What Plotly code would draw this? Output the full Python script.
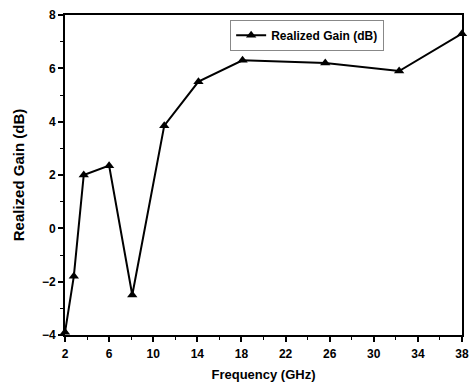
import plotly.graph_objects as go

freq = [2, 2.8, 3.7, 6.0, 8.1, 11.0, 14.1, 18.1, 25.6, 32.3, 38]
gain = [-3.9, -1.8, 2.0, 2.35, -2.5, 3.85, 5.5, 6.3, 6.2, 5.9, 7.3]
x_ticks = [2, 6, 10, 14, 18, 22, 26, 30, 34, 38]
y_ticks = [-4, -2, 0, 2, 4, 6, 8]

font_family = "Arial, Liberation Sans, sans-serif"

fig = go.Figure()
fig.add_trace(go.Scatter(
    x=freq, y=gain, mode="lines+markers", name="Realized Gain (dB)",
    line=dict(color="black", width=2),
    marker=dict(symbol="triangle-up", size=9, color="black"),
    cliponaxis=False,
))

axis_common = dict(
    showline=True, linecolor="black", linewidth=2, mirror=True,
    ticks="outside", ticklen=5, tickwidth=2, tickcolor="black",
    showgrid=False, zeroline=False, automargin=False,
    tickfont=dict(family=font_family, size=12, color="black", weight="bold"),
)

fig.update_xaxes(
    range=[2, 38], tickvals=x_ticks, ticklabelstandoff=2,
    minor=dict(ticks="outside", ticklen=3, tickwidth=1, tickcolor="black", dtick=2, tick0=0, showgrid=False),
    title=dict(text="Frequency (GHz)", font=dict(family=font_family, size=13, color="black", weight="bold"), standoff=9),
    **axis_common,
)
fig.update_yaxes(
    range=[-4, 8], tickvals=y_ticks,
    minor=dict(ticks="outside", ticklen=3, tickwidth=1, tickcolor="black", dtick=1, tick0=0, showgrid=False),
    title=dict(text="Realized Gain (dB)", font=dict(family=font_family, size=15, color="black", weight="bold"), standoff=14),
    **axis_common,
)

fig.update_layout(
    width=470, height=383,
    margin=dict(l=65, r=8, t=15, b=48),
    paper_bgcolor="white", plot_bgcolor="white",
    font=dict(family=font_family, color="black"),
    legend=dict(
        x=0.416, y=0.985, xanchor="left", yanchor="top",
        bgcolor="white", bordercolor="#888888", borderwidth=1,
        font=dict(family=font_family, size=12, color="black", weight="bold"),
        itemwidth=30, tracegroupgap=0,
    ),
    showlegend=True,
)

fig.write_html("out.html", config={"displayModeBar": False},
               post_script="document.body.style.margin='0';document.body.style.overflow='hidden';")
